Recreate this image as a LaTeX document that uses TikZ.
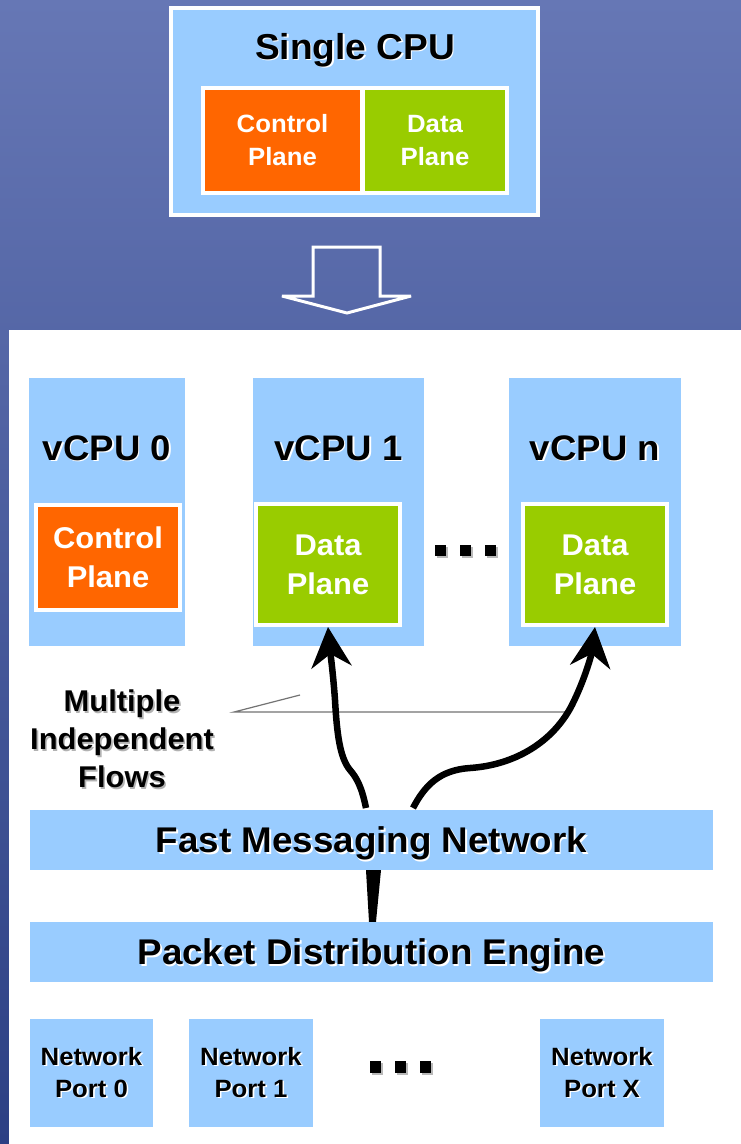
\documentclass[tikz,border=0pt]{standalone}
\usepackage{fontspec}
\setmainfont{Liberation Sans}[FakeStretch=1.03]
\usetikzlibrary{arrows.meta,calc}

\definecolor{bgtop}{HTML}{6677B5}
\definecolor{bgbot}{HTML}{2C4084}
\definecolor{boxblue}{HTML}{99CCFF}
\definecolor{ctrlorange}{HTML}{FF6600}
\definecolor{datagreen}{HTML}{99CC00}

% text with a small offset shadow behind it
\newcommand\shd[2]{\makebox[0pt][l]{\kern1.6pt\raisebox{-1.6pt}{\textcolor{#1}{#2}}}#2}
\newcommand\fsz[2]{\fontsize{#1}{#2}\selectfont\bfseries}

\begin{document}
\begin{tikzpicture}[x=1pt,y=-1pt,
  cpubox/.style={rectangle, fill=boxblue, draw=none, inner sep=0pt},
  planebox/.style={rectangle, draw=white, line width=4pt, inner sep=0pt,
    text=white, align=center, font=\fsz{30}{39}, minimum width=144pt},
  topplane/.style={rectangle, inner sep=0pt, text=white, align=center,
    font=\fsz{25}{33}, minimum height=101pt},
  cputitle/.style={font=\fsz{35.5}{40}, anchor=base, inner sep=0pt},
  barbox/.style={cpubox, minimum width=683pt, minimum height=60pt,
    font=\fsz{35.7}{40}, text depth=0pt},
  portbox/.style={cpubox, minimum height=108pt, align=center, font=\fsz{25}{32}},
  flow/.style={line width=6.5pt, line cap=butt,
    -{Stealth[length=40pt,width=40pt,inset=13pt]}},
  pointer/.style={draw=black!55, line width=1.2pt},
  dotshadow/.style={fill=gray!55},
]
\useasboundingbox (0,0) rectangle (741,1144);

% backdrop and lower panel
\shade[top color=bgtop, bottom color=bgbot] (0,0) rectangle (741,1144);
\fill[white] (9,330) rectangle (741,1144);

% single CPU
\node[cpubox, draw=white, line width=4pt, minimum width=367pt, minimum height=207pt] (cpu) at (354.5,111.5) {};
\node[font=\fsz{36}{40}, anchor=base, inner sep=0pt] (cpulabel) at (355,59) {\shd{white}{Single CPU}};
\node[rectangle, fill=white, inner sep=0pt, minimum width=308pt, minimum height=109pt] (pair) at (355,140.5) {};
\node[topplane, fill=ctrlorange, minimum width=155pt] (cptop) at (282.5,140.5) {Control\\Plane};
\node[topplane, fill=datagreen, minimum width=140pt] (dptop) at (435,140.5) {Data\\Plane};

% hollow block arrow
\draw[white, line width=3pt, line join=miter, miter limit=1.5]
  (313,247) -- (380,247) -- (380,296) -- (411,296) -- (347,313)
  -- (282,296) -- (313,296) -- cycle;

% virtual CPUs
\node[cpubox, minimum width=156pt, minimum height=268pt] (v0) at (107,512) {};
\node[cpubox, minimum width=171pt, minimum height=268pt] (v1) at (338.5,512) {};
\node[cpubox, minimum width=172pt, minimum height=268pt] (vn) at (595,512) {};
\node[cputitle] (v0t) at (107,460) {\shd{white}{vCPU 0}};
\node[cputitle] (v1t) at (338.5,460) {\shd{white}{vCPU 1}};
\node[cputitle] (vnt) at (595,460) {\shd{white}{vCPU n}};

\node[planebox, fill=ctrlorange, minimum height=105pt] (cp0) at (108,557.5) {Control\\Plane};
\node[planebox, fill=datagreen, minimum height=121pt] (dp1) at (328,564.5) {Data\\Plane};
\node[planebox, fill=datagreen, minimum height=121pt] (dpn) at (595,564.5) {Data\\Plane};

% ellipsis between vCPU 1 and vCPU n
\foreach \x in {435,459.5,485} {
  \fill[dotshadow] (\x+2,547) rectangle (\x+13,558);
  \fill[black] (\x,545) rectangle (\x+11,556);
}

% messaging and distribution bars
\node[barbox] (fmn) at (371.5,840) {\shd{white}{Fast Messaging Network}};
\node[barbox] (pde) at (371.5,952) {\shd{white}{Packet Distribution Engine}};

% network ports
\node[portbox, minimum width=123pt] (p0) at (91.5,1073) {\shd{white}{Network}\\\shd{white}{Port 0}};
\node[portbox, minimum width=124pt] (p1) at (251,1073) {\shd{white}{Network}\\\shd{white}{Port 1}};
\node[portbox, minimum width=124pt] (px) at (602,1073) {\shd{white}{Network}\\\shd{white}{Port X}};
\foreach \x in {370,395,420} {
  \fill[dotshadow] (\x+2,1063) rectangle (\x+13,1075);
  \fill[black] (\x,1061) rectangle (\x+11,1073);
}

% flows label and its pointer lines
\node[font=\fsz{30}{38}, align=center, inner sep=0pt] (mif) at (122,740)
  {\shd{gray!60}{Multiple}\\\shd{gray!60}{Independent}\\\shd{gray!60}{Flows}};
\coordinate (pj) at (234,712);
\coordinate (pa) at (300,695);
\coordinate (pb) at (566,712);
\draw[pointer] (pa) -- (pj) -- (pb);

% packet flows
\coordinate (f1) at (366,808);
\coordinate (f2) at (413,808);
\draw[flow] (f1) .. controls (362,788) and (357,778) .. (350,770)
  .. controls (340,758) and (337,735) .. (335,700)
  .. controls (333,672) and (330,650) .. (dp1.south);
\draw[flow] (f2) .. controls (425,785) and (440,770) .. (470,768)
  .. controls (515,765) and (553,742) .. (572,705)
  .. controls (586,677) and (592,652) .. (dpn.south);
\fill[black] ($(fmn.south)+(-5.5,0)$) -- ($(fmn.south)+(9.5,0)$)
  -- ($(pde.north)+(4.5,0)$) -- ($(pde.north)+(-2.5,0)$) -- cycle;
\end{tikzpicture}
\end{document}
